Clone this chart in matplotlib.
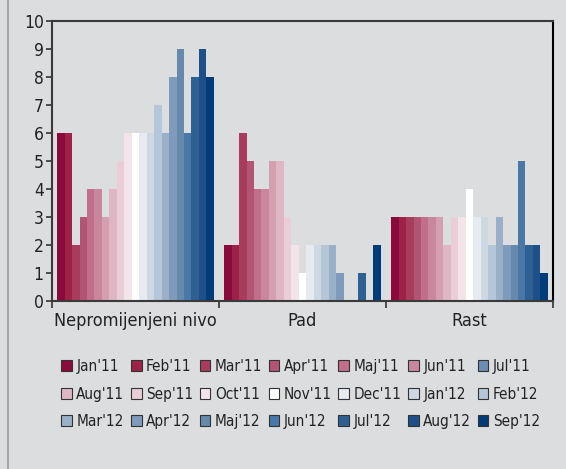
import numpy as np
import matplotlib.pyplot as plt
from matplotlib.patches import Patch
from matplotlib.lines import Line2D

plt.rcParams['font.family'] = ['DejaVu Sans']
plt.rcParams['font.stretch'] = 'condensed'

# podaci
kategorije = ['Nepromijenjeni nivo', 'Pad', 'Rast']
mjeseci = ["Jan'11", "Feb'11", "Mar'11", "Apr'11", "Maj'11", "Jun'11", "Jul'11",
           "Aug'11", "Sep'11", "Oct'11", "Nov'11", "Dec'11", "Jan'12", "Feb'12",
           "Mar'12", "Apr'12", "Maj'12", "Jun'12", "Jul'12", "Aug'12", "Sep'12"]
nepromijenjeni = [6, 6, 2, 3, 4, 4, 3, 4, 5, 6, 6, 6, 6, 7, 6, 8, 9, 6, 8, 9, 8]
pad = [2, 2, 6, 5, 4, 4, 5, 5, 3, 2, 1, 2, 2, 2, 2, 1, 0, 0, 1, 0, 2]
rast = [3, 3, 3, 3, 3, 3, 3, 2, 3, 3, 4, 3, 3, 2, 3, 2, 2, 5, 2, 2, 1]

boje = ['#8b0a3c', '#9e2148', '#a83c5c', '#b25574', '#c06e8a', '#c9879d', '#d4a0b0',
        '#dfb6c3', '#e9cdd7', '#f3e4e9', '#ffffff', '#e6ebf2', '#cdd8e3', '#b4c6d8',
        '#9ab0c8', '#7f9bbb', '#6689ae', '#4a78a6', '#2e6094', '#1d5088', '#003b7a']
# u legendi Jul'11 ima plavu boju (kao u originalu)
boje_legenda = list(boje)
boje_legenda[6] = '#6a8db5'

vrijednosti = np.array([nepromijenjeni, pad, rast])

bg = '#dcdddf'
fig = plt.figure(figsize=(5.66, 4.69), dpi=100, facecolor=bg)
ax = fig.add_axes([52/566, 1-301/469, 501/566, 280/469], facecolor=bg)

n = len(mjeseci)
w = 1/22.4
x = np.arange(len(kategorije)) + 0.5
for j in range(n):
    ax.bar(x + (j - (n-1)/2)*w, vrijednosti[:, j], width=w, color=boje[j], linewidth=0)

ax.set_xlim(0, 3)
ax.set_ylim(0, 10)
ax.set_yticks(range(11))
ax.set_xticks(x)
ax.set_xticklabels(kategorije, fontsize=13, color='#222222')
ax.set_xticks([0, 1, 2, 3], minor=True)
ax.tick_params(axis='x', which='major', length=0, pad=8)
ax.tick_params(axis='x', which='minor', length=5, width=1.2, color='#333333', direction='out')
ax.tick_params(axis='y', length=4, width=1.2, color='#333333', labelsize=12.5, pad=2,
               labelcolor='#222222')
for s in ['left', 'top', 'bottom']:
    ax.spines[s].set_color('#3a3a3a')
    ax.spines[s].set_linewidth(1.5)
ax.spines['right'].set_color('#000000')
ax.spines['right'].set_linewidth(1.5)

# legenda, redom po redovima
rucke = [Patch(facecolor=boje_legenda[i], edgecolor='#333333', linewidth=0.8) for i in range(n)]
red = []
for c in range(7):
    for r in range(3):
        red.append(r*7 + c)
leg = fig.legend([rucke[i] for i in red], [mjeseci[i] for i in red], ncol=7,
                 loc='upper left', bbox_to_anchor=(55/566, 1-353/469), frameon=False,
                 fontsize=11, handlelength=0.7, handleheight=0.7, handletextpad=0.3,
                 columnspacing=0.42, labelspacing=0.82, borderaxespad=0)
for t in leg.get_texts():
    t.set_color('#222222')

fig.add_artist(Line2D([8/566, 8/566], [0, 1], color='#9a9a9a', linewidth=1.2))

fig.savefig('out.png', dpi=100, facecolor=bg)
